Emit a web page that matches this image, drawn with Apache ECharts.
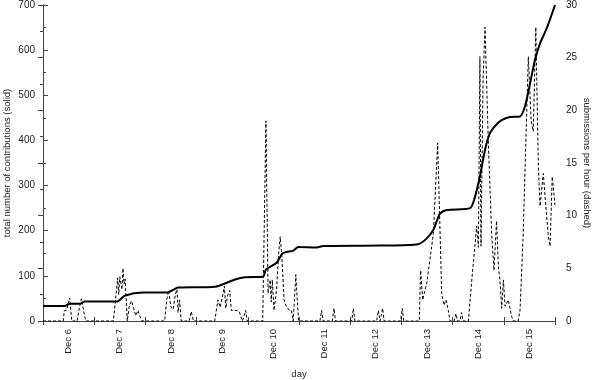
<!DOCTYPE html>
<html>
<head>
<meta charset="utf-8">
<script src="https://cdn.jsdelivr.net/npm/echarts@6/dist/echarts.min.js"></script>
<style>html,body{margin:0;padding:0;background:#fff}#c{width:593px;height:380px}</style>
</head>
<body>
<div id="c"></div>
<script>
// hours since Dec 6 00:00
var dayLabels = ['Dec 6','Dec 7','Dec 8','Dec 9','Dec 10','Dec 11','Dec 12','Dec 13','Dec 14','Dec 15'];
var labelHours = [12, 36, 60, 84, 108, 132, 156, 180, 204, 228];
var leftTicks = [0, 100, 200, 300, 400, 500, 600, 700];
var rightTicks = [0, 5, 10, 15, 20, 25, 30];

// total number of contributions (solid): [hour, total]
var totalHours = [0, 10.2, 12.5, 17.2, 19.5, 34.7, 38.3, 46.9, 57.7, 61.9, 63.3, 80.6, 90, 94.7, 103.1, 104.5, 109.5, 112.4, 117.3, 119.7, 128.3, 131.3, 158, 175.9, 179.9, 183, 184.8, 186.1, 189.2, 200.2, 202.5, 204.8, 207.2, 209.5, 211.9, 215, 218.9, 223.6, 225.9, 228.3, 230.6, 233, 236.1, 239.2, 240];
var totalValues = [33, 33, 38, 38, 43, 43, 56, 63, 63, 71, 74, 76, 92, 97, 98, 114, 129, 150, 156, 164, 163, 166, 167, 170, 183, 202, 224, 238, 246, 250, 275, 320, 379, 416, 432, 445, 452, 453, 475, 526, 578, 615, 648, 689, 700];

// submissions per hour (dashed): [hour, rate]
var rateHours = [0, 9.5, 10, 11, 12.5, 13.5, 16, 17, 18, 19, 20,
  33, 34, 35, 35.5, 36, 37, 37.5, 38, 38.5, 39.5, 40.5, 41.5, 42.5, 43.5, 44.5, 45.5, 46.5,
  57, 58, 58.8, 60, 61, 62, 62.8, 63.3, 64, 64.8, 68.5, 69.5, 70.5,
  80.5, 82, 83, 84, 85, 85.7, 86.5, 87.5, 88.3, 89, 90.5, 92, 93.5, 95, 95.7,
  103, 104.5, 105.5, 106.5, 107, 107.5, 108.3, 109.5, 110.5, 111.2, 112, 113, 114, 115.5, 116.5, 117.3, 118.5, 119.8,
  129.8, 130.6, 131.3, 135.6, 136.4, 137.1, 144.7, 145.5, 146.2, 156.4, 157.2, 158, 158.5, 159.2, 159.9, 167.6, 168.4, 169.1,
  176.4, 177.0, 178.0, 179.9, 183.0, 185.0, 186.9, 188.0, 188.9, 190.0, 190.8, 192.7, 193.6, 194.3, 195.5, 196.2, 196.9, 199.4,
  201.0, 203.3, 204.1, 204.8, 205.3, 206.3, 207.2, 208.7, 210.3, 211.4, 212.6, 213.5, 214.2, 215.0, 215.8, 216.6, 218.1, 219.7, 220.5, 222.7, 223.6,
  225.1, 227.5, 228.8, 229.8, 231.0, 232.2, 233.0, 234.5, 236.1, 236.9, 237.7, 238.7, 240];
var rateValues = [0, 0, 1, 1, 2.2, 0, 0, 1.2, 2.1, 1, 0,
  0, 2, 4.1, 2.5, 4.2, 3.0, 5.0, 3.5, 4.0, 0, 1.5, 1.9, 1.2, 0.5, 1.0, 0.4, 0,
  0, 2.0, 2.9, 1.3, 1.1, 2.5, 3.0, 0.8, 2.0, 0, 0, 0.9, 0,
  0, 2.0, 1.3, 2.2, 3.3, 1.2, 2.4, 2.9, 1.0, 1.0, 1.0, 0.9, 0, 1.0, 0,
  0, 19, 2.6, 3.9, 1.8, 3.9, 1.0, 3.0, 6.5, 8.0, 6.0, 2.0, 1.4, 1.0, 1.0, 0, 4.4, 0,
  0, 1.0, 0, 0, 1.2, 0, 0, 1.2, 0, 0, 1.0, 0, 0, 1.2, 0, 0, 1.2, 0,
  0, 4.8, 2.0, 3.6, 8.3, 16.9, 2.5, 1.5, 2.0, 1.0, 0, 0, 0.7, 0, 0, 0.8, 0, 0,
  3.9, 9.0, 7.0, 25.1, 7.1, 23, 27.9, 17.2, 8.3, 4.8, 9.5, 5.0, 3.9, 1.2, 3.9, 1.4, 2.0, 0.4, 0, 0, 1.0,
  8.3, 25.1, 19, 18, 27.9, 14.6, 10.9, 14.0, 9.9, 8.0, 7.1, 13.7, 11];

function pairs(xs, ys) { return xs.map(function (x, i) { return [x, ys[i]]; }); }

var font = 'Liberation Sans';
var txt = '#222';
var frame = { show: true, lineStyle: { color: '#444', width: 1 } };

var chart = echarts.init(document.getElementById('c'), null, { renderer: 'canvas' });
chart.setOption({
  animation: false,
  backgroundColor: '#fff',
  grid: { left: 43, right: 38, top: 5, bottom: 59, containLabel: false, outerBoundsMode: 'none' },
  xAxis: [{
    type: 'value', min: 0, max: 240, interval: 24, position: 'bottom',
    name: 'day', nameLocation: 'middle', nameGap: 48, nameMoveOverlap: false,
    nameTextStyle: { fontFamily: font, fontSize: 9.5, color: txt },
    axisLine: frame,
    axisTick: { show: true, inside: true, length: 4, lineStyle: { color: '#444' } },
    axisLabel: {
      customValues: labelHours, rotate: 90, margin: 8,
      fontFamily: font, fontSize: 9.5, color: txt,
      formatter: function (v) { var i = labelHours.indexOf(v); return i >= 0 ? dayLabels[i] : ''; }
    },
    splitLine: { show: false }
  }, {
    type: 'value', min: 0, max: 240, interval: 24, position: 'top',
    axisLine: frame,
    axisTick: { show: true, inside: true, length: 4, lineStyle: { color: '#444' } },
    axisLabel: { show: false },
    splitLine: { show: false }
  }],
  yAxis: [{
    type: 'value', min: 0, max: 700, interval: 100, position: 'left',
    name: 'total number of contributions (solid)', nameLocation: 'middle', nameGap: 31, nameMoveOverlap: false,
    nameTextStyle: { fontFamily: font, fontSize: 9.5, color: txt },
    axisLine: frame,
    axisTick: { show: true, inside: true, length: 5, lineStyle: { color: '#444' } },
    minorTick: { show: true, splitNumber: 2, length: 3, lineStyle: { color: '#444' } },
    axisLabel: { margin: 8, fontFamily: font, fontSize: 10, color: txt,
      formatter: function (v) { return leftTicks.indexOf(v) >= 0 ? String(v) : ''; } },
    splitLine: { show: false }
  }, {
    type: 'value', min: 0, max: 30, interval: 5, position: 'right',
    name: 'submissions per hour (dashed)', nameLocation: 'middle', nameGap: 27, nameRotate: -90, nameMoveOverlap: false,
    nameTextStyle: { fontFamily: font, fontSize: 9.5, color: txt },
    axisLine: frame,
    axisTick: { show: true, inside: true, length: 5, lineStyle: { color: '#444' } },
    minorTick: { show: true, splitNumber: 2, length: 3, lineStyle: { color: '#444' } },
    axisLabel: { margin: 11, fontFamily: font, fontSize: 10, color: txt,
      formatter: function (v) { return rightTicks.indexOf(v) >= 0 ? String(v) : ''; } },
    splitLine: { show: false }
  }],
  series: [{
    name: 'total', type: 'line', xAxisIndex: 0, yAxisIndex: 0,
    data: pairs(totalHours, totalValues),
    showSymbol: false, smooth: 0.25, z: 3,
    lineStyle: { color: '#000', width: 2 }
  }, {
    name: 'rate', type: 'line', xAxisIndex: 0, yAxisIndex: 1,
    data: pairs(rateHours, rateValues),
    showSymbol: false, smooth: false, z: 2,
    lineStyle: { color: '#000', width: 1, type: [3, 2] }
  }]
});
</script>
</body>
</html>
